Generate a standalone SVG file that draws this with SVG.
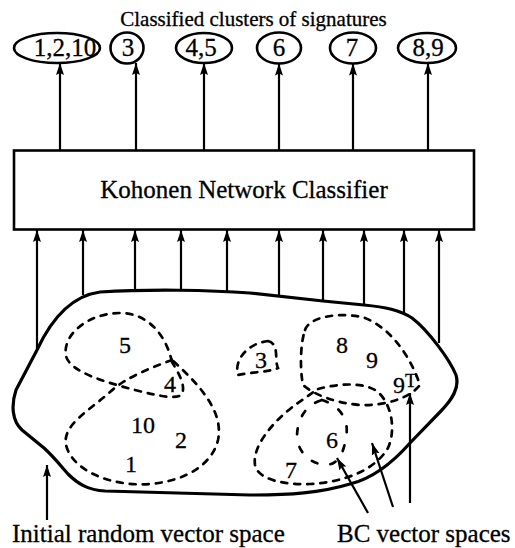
<svg xmlns="http://www.w3.org/2000/svg" width="515" height="548" viewBox="0 0 515 548">
  <style>
    text { font-family: "Liberation Serif", "Times New Roman", serif; fill: #000; stroke: #000; stroke-width: 0.3; }
    .cap { font-size: 21px; }
    .lbl { font-size: 25px; }
    .num { font-size: 24px; }
    .oval { fill: #fff; stroke: #000; stroke-width: 2.6; }
    .box { fill: #fff; stroke: #000; stroke-width: 2.6; }
    .blob { fill: none; stroke: #000; stroke-width: 3.2; stroke-linejoin: round; }
    .dash { fill: none; stroke: #000; stroke-width: 2.7; stroke-dasharray: 6 7; stroke-linecap: round; }
    .sparse { stroke-dasharray: 6 13; }
    .arrow { fill: none; stroke: #000; stroke-width: 2.2; marker-end: url(#head); }
  </style>
  <defs>
    <marker id="head" markerUnits="userSpaceOnUse" markerWidth="13" markerHeight="9" refX="12" refY="4.5" orient="auto">
      <path d="M0,0.5 L12,4.5 L0,8.5 L2,4.5 z" fill="#000"/>
    </marker>
  </defs>

  <rect width="515" height="548" fill="#fff"/>

  <text class="cap" x="253.5" y="26" text-anchor="middle">Classified clusters of signatures</text>

  <!-- output clusters -->
  <g id="out-1-2-10"><ellipse class="oval" cx="57" cy="48" rx="43" ry="15"/><text class="lbl" x="65" y="56" text-anchor="middle">1,2,10</text></g>
  <g id="out-3"><ellipse class="oval" cx="127" cy="48" rx="16.5" ry="15.5"/><text class="lbl" x="128" y="56" text-anchor="middle">3</text></g>
  <g id="out-4-5"><ellipse class="oval" cx="204" cy="48" rx="28" ry="15"/><text class="lbl" x="201" y="56" text-anchor="middle">4,5</text></g>
  <g id="out-6"><ellipse class="oval" cx="279" cy="48" rx="22" ry="15.5"/><text class="lbl" x="279" y="56" text-anchor="middle">6</text></g>
  <g id="out-7"><ellipse class="oval" cx="353" cy="48" rx="23" ry="15.5"/><text class="lbl" x="352" y="56" text-anchor="middle">7</text></g>
  <g id="out-8-9"><ellipse class="oval" cx="427" cy="48" rx="29" ry="15"/><text class="lbl" x="428" y="56" text-anchor="middle">8,9</text></g>

  <!-- classifier -->
  <g id="classifier">
    <rect class="box" x="14" y="150.5" width="460" height="79"/>
    <text class="lbl" x="244" y="198" text-anchor="middle">Kohonen Network Classifier</text>
  </g>

  <!-- vector space -->
  <g id="vector-space">
    <path class="blob" d="M37,350 C50,322 70,296 100,292 C150,289 210,290 250,293 L323,301 L364,305 C385,307 400,310 412,318 C428,330 450,360 456,375 C460,388 452,400 440,412 L410,443 C395,460 375,478 350,484 C320,493 290,495 250,495 L105,491 C88,490 78,484 68,474 C60,465 54,457 44,448 L22,430 C12,421 11,405 16,390 Z"/>
  </g>

  <!-- signature clusters inside the space -->
  <g id="cluster-5">
    <path class="dash" d="M172,362 C166,335 148,313 120,313 C88,313 62,335 66,356 C70,372 105,382 135,390 C158,396 178,400 182,394 C186,385 178,372 172,362 Z"/>
    <text class="num" x="125" y="353" text-anchor="middle">5</text>
    <text class="num" x="170" y="392" text-anchor="middle">4</text>
  </g>
  <g id="cluster-1-2-10">
    <path class="dash" d="M172,360 C150,368 125,378 110,392 C90,410 62,425 66,445 C72,470 110,487 150,484 C185,481 212,465 218,440 C224,412 200,385 172,360 Z"/>
    <text class="num" x="143" y="433" text-anchor="middle">10</text>
    <text class="num" x="181" y="448" text-anchor="middle">2</text>
    <text class="num" x="131" y="472" text-anchor="middle">1</text>
  </g>
  <g id="cluster-3">
    <path class="dash" d="M268,341 C280,344 274,360 278,368 C270,372 252,372 238,375 C234,362 245,344 268,341 Z"/>
    <text class="num" x="261" y="368" text-anchor="middle">3</text>
  </g>
  <g id="cluster-8-9">
    <path class="dash" d="M305,330 C310,315 345,312 365,318 C390,328 410,355 420,385 C410,398 385,406 360,405 C335,403 315,395 303,385 C300,370 300,345 305,330 Z"/>
    <text class="num" x="342" y="353" text-anchor="middle">8</text>
    <text class="num" x="372" y="368" text-anchor="middle">9</text>
    <text class="num" x="393" y="393">9<tspan font-size="19" dy="-6">T</tspan></text>
  </g>
  <g id="cluster-7">
    <path class="dash" d="M318,389 C340,383 365,382 378,392 C392,405 396,430 388,448 C375,470 345,482 310,484 C285,485 258,480 255,465 C252,445 275,420 295,405 Z"/>
    <text class="num" x="291" y="478" text-anchor="middle">7</text>
  </g>
  <g id="cluster-6">
    <path class="dash sparse" d="M322,400 C338,405 350,418 346,438 C343,455 338,464 326,465 C310,464 298,452 297,437 C297,420 305,405 322,400 Z"/>
    <text class="num" x="332" y="448" text-anchor="middle">6</text>
  </g>

  <!-- connectors -->
  <g id="connectors">
    <line class="arrow" x1="60" y1="150" x2="60" y2="63"/>
    <line class="arrow" x1="136" y1="150" x2="136" y2="63"/>
    <line class="arrow" x1="204" y1="150" x2="204" y2="63"/>
    <line class="arrow" x1="279" y1="150" x2="279" y2="63.5"/>
    <line class="arrow" x1="353" y1="150" x2="353" y2="63.5"/>
    <line class="arrow" x1="428" y1="150" x2="428" y2="63"/>

    <line class="arrow" x1="37" y1="350" x2="37" y2="230"/>
    <line class="arrow" x1="83" y1="295" x2="83" y2="230"/>
    <line class="arrow" x1="135" y1="291" x2="135" y2="230"/>
    <line class="arrow" x1="181" y1="290" x2="181" y2="230"/>
    <line class="arrow" x1="227" y1="291" x2="227" y2="230"/>
    <line class="arrow" x1="279" y1="295" x2="279" y2="230"/>
    <line class="arrow" x1="323" y1="301" x2="323" y2="230"/>
    <line class="arrow" x1="364" y1="305" x2="364" y2="230"/>
    <line class="arrow" x1="404" y1="313" x2="404" y2="230"/>
    <line class="arrow" x1="439" y1="343" x2="439" y2="230"/>

    <line class="arrow" x1="47" y1="520" x2="47" y2="465"/>
    <line class="arrow" x1="368" y1="513" x2="337" y2="458"/>
    <line class="arrow" x1="393" y1="507" x2="372" y2="443"/>
    <line class="arrow" x1="410" y1="503" x2="410" y2="393"/>
  </g>

  <text class="lbl" x="12" y="542">Initial random vector space</text>
  <text class="lbl" x="337" y="542">BC vector spaces</text>
</svg>
